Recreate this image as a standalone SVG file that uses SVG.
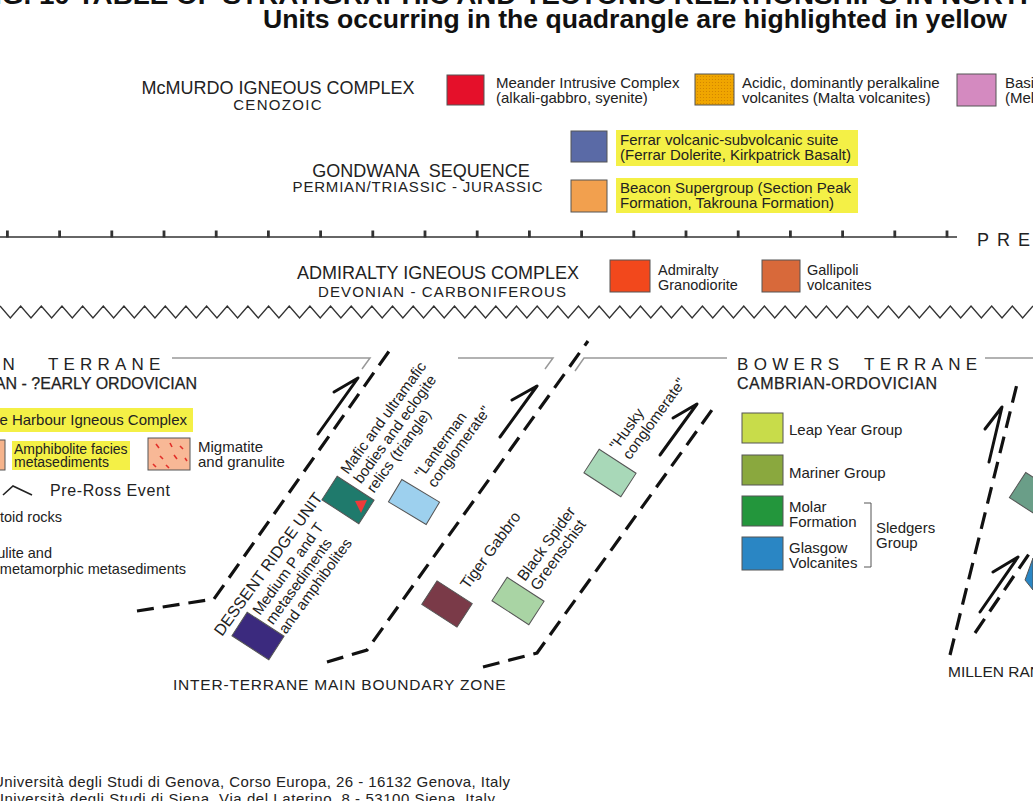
<svg xmlns="http://www.w3.org/2000/svg" width="1033" height="801" viewBox="0 0 1033 801">
<style>
text{font-family:"Liberation Sans",Arial,sans-serif;fill:#222}
.b{font-weight:bold;fill:#111}
.f{fill:none;stroke:#111;stroke-width:3.2;stroke-dasharray:17 9}
.ar{fill:none;stroke:#111;stroke-width:3;stroke-linecap:round;stroke-linejoin:round}
.sw{stroke:#555;stroke-width:1}
.hl{fill:#f4f046}
.sep{fill:none;stroke:#999;stroke-width:1.5}
.r{font-size:15px}
.hv{stroke:#222;stroke-width:0.25}
</style>
<defs>
<pattern id="dots" width="3" height="3" patternUnits="userSpaceOnUse">
<rect width="3" height="3" fill="#f0a600"/><circle cx="1.5" cy="1.5" r="0.6" fill="#d08200"/>
</pattern>
</defs>
<rect width="1033" height="801" fill="#fff"/>

<g id="title">
<text x="-6" y="4" class="b" font-size="25" textLength="1046" lengthAdjust="spacingAndGlyphs">IG. 10 TABLE OF STRATIGRAPHIC AND TECTONIC RELATIONSHIPS IN NORTH</text>
<text x="263" y="28" class="b" font-size="26" textLength="744" lengthAdjust="spacingAndGlyphs">Units occurring in the quadrangle are highlighted in yellow</text>
</g>

<g id="mcmurdo">
<text x="278" y="94" font-size="18" text-anchor="middle">McMURDO IGNEOUS COMPLEX</text>
<text x="278" y="110" font-size="15" letter-spacing="1.3" text-anchor="middle">CENOZOIC</text>
<rect class="sw" x="447" y="75" width="37" height="30" fill="#e5102a"/>
<text x="496" y="88" class="r">Meander Intrusive Complex</text>
<text x="496" y="103" class="r">(alkali-gabbro, syenite)</text>
<rect class="sw" x="695" y="74" width="39" height="31" fill="url(#dots)"/>
<text x="742" y="88" class="r">Acidic, dominantly peralkaline</text>
<text x="742" y="103" class="r">volcanites (Malta volcanites)</text>
<rect class="sw" x="957" y="74" width="39" height="32" fill="#d48ac0"/>
<text x="1005" y="88" class="r">Basic volcanites</text>
<text x="1005" y="103" class="r">(Melbourne volcanites)</text>
</g>

<g id="gondwana">
<text x="421" y="177" font-size="18" text-anchor="middle" style="white-space:pre">GONDWANA  SEQUENCE</text>
<text x="418" y="192" font-size="15" letter-spacing="0.8" text-anchor="middle">PERMIAN/TRIASSIC - JURASSIC</text>
<rect class="sw" x="571" y="131" width="36" height="31" fill="#5a6aa6"/>
<rect class="hl" x="616" y="130" width="242" height="36"/>
<text x="620" y="145" class="r">Ferrar volcanic-subvolcanic suite</text>
<text x="620" y="160" class="r">(Ferrar Dolerite, Kirkpatrick Basalt)</text>
<rect class="sw" x="571" y="180" width="36" height="32" fill="#f2a04e"/>
<rect class="hl" x="616" y="178" width="242" height="35"/>
<text x="620" y="193" class="r">Beacon Supergroup (Section Peak</text>
<text x="620" y="208" class="r">Formation, Takrouna Formation)</text>
</g>

<g id="unconformity">
<line x1="0" y1="237" x2="957" y2="237" stroke="#333" stroke-width="1.6"/>
<line x1="6" y1="234" x2="957" y2="234" stroke="#333" stroke-width="7" stroke-dasharray="2.8 49.4"/>
<text x="977" y="246" font-size="18" letter-spacing="8">PRE</text>
</g>

<g id="admiralty">
<text x="438" y="279" font-size="18" text-anchor="middle" textLength="282" lengthAdjust="spacingAndGlyphs">ADMIRALTY IGNEOUS COMPLEX</text>
<text x="442" y="297" font-size="15" text-anchor="middle" textLength="248" lengthAdjust="spacing">DEVONIAN - CARBONIFEROUS</text>
<rect class="sw" x="610" y="260" width="40" height="32" fill="#f2481c"/>
<text x="658" y="275" font-size="14.5">Admiralty</text>
<text x="658" y="290" font-size="14.5">Granodiorite</text>
<rect class="sw" x="762" y="260" width="38" height="32" fill="#d8693a"/>
<text x="807" y="275" font-size="14.5">Gallipoli</text>
<text x="807" y="290" font-size="14.5">volcanites</text>
</g>

<g id="zigzag">
<path fill="none" stroke="#333" stroke-width="1.4" d="M0,306 l10.33,12 10.33,-12 10.33,12 10.33,-12 10.33,12 10.33,-12 10.33,12 10.33,-12 10.33,12 10.33,-12 10.33,12 10.33,-12 10.33,12 10.33,-12 10.33,12 10.33,-12 10.33,12 10.33,-12 10.33,12 10.33,-12 10.33,12 10.33,-12 10.33,12 10.33,-12 10.33,12 10.33,-12 10.33,12 10.33,-12 10.33,12 10.33,-12 10.33,12 10.33,-12 10.33,12 10.33,-12 10.33,12 10.33,-12 10.33,12 10.33,-12 10.33,12 10.33,-12 10.33,12 10.33,-12 10.33,12 10.33,-12 10.33,12 10.33,-12 10.33,12 10.33,-12 10.33,12 10.33,-12 10.33,12 10.33,-12 10.33,12 10.33,-12 10.33,12 10.33,-12 10.33,12 10.33,-12 10.33,12 10.33,-12 10.33,12 10.33,-12 10.33,12 10.33,-12 10.33,12 10.33,-12 10.33,12 10.33,-12 10.33,12 10.33,-12 10.33,12 10.33,-12 10.33,12 10.33,-12 10.33,12 10.33,-12 10.33,12 10.33,-12 10.33,12 10.33,-12 10.33,12 10.33,-12 10.33,12 10.33,-12 10.33,12 10.33,-12 10.33,12 10.33,-12 10.33,12 10.33,-12 10.33,12 10.33,-12 10.33,12 10.33,-12 10.33,12 10.33,-12 10.33,12 10.33,-12 10.33,12 10.33,-12"/>
</g>

<g id="separators">
<path class="sep" d="M172,358 L370,358 L362,369"/>
<path class="sep" d="M458,358 L553,358 L545,369"/>
<path class="sep" d="M575,371 L584,358 L727,358"/>
<path class="sep" d="M985,358 L1033,358"/>
</g>

<g id="wilson-terrane">
<text x="20" y="370" font-size="17" letter-spacing="5.2" text-anchor="end">WILSON</text>
<text x="48" y="370" font-size="17" letter-spacing="5.2">TERRANE</text>
<text x="197" y="389" font-size="16" class="hv" text-anchor="end">CAMBRIAN - ?EARLY ORDOVICIAN</text>
<rect class="hl" x="0" y="408" width="193" height="24"/>
<text x="187" y="425" class="r" text-anchor="end">Granite Harbour Igneous Complex</text>
<rect class="sw" x="-30" y="440" width="35" height="30" fill="#f6b48c"/>
<rect class="hl" x="12" y="441" width="118" height="29"/>
<text x="14" y="454" font-size="14">Amphibolite facies</text>
<text x="14" y="467" font-size="14">metasediments</text>
<rect class="sw" x="148" y="438" width="42" height="32" fill="#f8b896"/>
<path d="M156,444 l3,4 M170,443 l2,4 M180,446 l3,3 M160,456 l3,3 M174,455 l3,4 M185,458 l2,3 M153,464 l3,3 M166,465 l3,3" stroke="#e2302a" stroke-width="1.6" fill="none"/>
<text x="198" y="452" class="r">Migmatite</text>
<text x="198" y="467" class="r">and granulite</text>
<path d="M3,495 L13,486 L32,495" fill="none" stroke="#222" stroke-width="1.6"/>
<text x="50" y="496" font-size="16" letter-spacing="0.6">Pre-Ross Event</text>
<text x="62" y="522" font-size="14.5" text-anchor="end">Granitoid rocks</text>
<text x="52" y="558" font-size="14.5" text-anchor="end">Granulite and</text>
<text x="186" y="574" font-size="14.5" text-anchor="end">metamorphic metasediments</text>
</g>

<g id="dessent-ridge">
<rect class="sw" x="-22" y="-14" width="44" height="28" fill="#3b2a7e" transform="translate(258,636) rotate(33)"/>
<text font-size="16" transform="translate(222,637) rotate(-54)">DESSENT RIDGE UNIT</text>
<g transform="translate(260,616) rotate(-54)" font-size="15">
<text x="0" y="0">Medium P and T</text>
<text x="0" y="16">metasediments</text>
<text x="0" y="32">and amphibolites</text>
</g>
</g>

<g id="mafic">
<rect class="sw" x="-22" y="-14" width="44" height="28" fill="#1f7a6c" transform="translate(348,500) rotate(33)"/>
<polygon points="355,501 367,500 361,513" fill="#ee3a3a"/>
<g transform="translate(348,475) rotate(-54)" font-size="15">
<text x="0" y="0">Mafic and ultramafic</text>
<text x="0" y="16">bodies and eclogite</text>
<text x="0" y="32">relics (triangle)</text>
</g>
</g>

<g id="lanterman">
<rect class="sw" x="-22" y="-13" width="44" height="26" fill="#9dd0ee" transform="translate(414,502) rotate(31)"/>
<g transform="translate(422,479) rotate(-54)" font-size="15">
<text x="0" y="0">"Lanterman</text>
<text x="0" y="16">conglomerate"</text>
</g>
</g>

<g id="tiger-gabbro">
<rect class="sw" x="-21" y="-14" width="42" height="28" fill="#7a3a48" transform="translate(447,604) rotate(33)"/>
<text font-size="15.5" transform="translate(468,590) rotate(-54)">Tiger Gabbro</text>
</g>

<g id="black-spider">
<rect class="sw" x="-22" y="-14" width="44" height="28" fill="#a9d4a4" transform="translate(518,601) rotate(33)"/>
<g transform="translate(525,582) rotate(-54)" font-size="15.5">
<text x="0" y="0">Black Spider</text>
<text x="0" y="16">Greenschist</text>
</g>
</g>

<g id="husky">
<rect class="sw" x="-22" y="-14" width="44" height="28" fill="#a8d8b8" transform="translate(610,473) rotate(33)"/>
<g transform="translate(617,451) rotate(-54)" font-size="15">
<text x="0" y="0">"Husky</text>
<text x="0" y="16">conglomerate"</text>
</g>
</g>

<g id="bowers-terrane">
<text x="737" y="370" font-size="17" letter-spacing="5.3" style="white-space:pre">BOWERS  TERRANE</text>
<text x="737" y="389" font-size="16" letter-spacing="0.5" class="hv">CAMBRIAN-ORDOVICIAN</text>
<rect class="sw" x="742" y="413" width="41" height="30" fill="#c8dc4a"/>
<text x="789" y="435" class="r">Leap Year Group</text>
<rect class="sw" x="742" y="455" width="41" height="30" fill="#8aa83e"/>
<text x="789" y="478" class="r">Mariner Group</text>
<rect class="sw" x="742" y="496" width="41" height="30" fill="#23963c"/>
<text x="789" y="512" class="r">Molar</text>
<text x="789" y="527" class="r">Formation</text>
<rect class="sw" x="742" y="537" width="41" height="33" fill="#2a86c4"/>
<text x="789" y="553" class="r">Glasgow</text>
<text x="789" y="568" class="r">Volcanites</text>
<path d="M864,503 H871 V567 H864" fill="none" stroke="#555" stroke-width="1"/>
<text x="876" y="533" class="r">Sledgers</text>
<text x="876" y="548" class="r">Group</text>
</g>

<g id="millen-range">
<rect class="sw" x="-22" y="-15" width="44" height="30" fill="#6a9e88" transform="translate(1036,497) rotate(33)"/>
<polygon points="1033,558 1025,580 1033,590" fill="#2a86c4" stroke="#555" stroke-width="1"/>
<text x="948" y="677" font-size="15.5">MILLEN RANGE</text>
</g>

<g id="connectors">
<path class="f" d="M137,611 L214,599 L392,347"/>
<path class="f" d="M327,662 L367,650 L588,341"/>
<path class="f" d="M483,667 L537,653 L717,403"/>
<path class="f" d="M950,655 L1018,380"/>
<path class="f" d="M975,633 L1033,548"/>
<path class="ar" d="M318,434 L358,378 L334,392"/>
<path class="ar" d="M500,437 L537,386 L512,400"/>
<path class="ar" d="M660,455 L697,404 L673,418"/>
<path class="ar" d="M989,462 L1002,407 L985,429"/>
<path class="ar" d="M980,612 L1018,557 L993,572"/>
</g>

<g id="boundary-label">
<text x="173" y="690" font-size="15.5" letter-spacing="0.8">INTER-TERRANE MAIN BOUNDARY ZONE</text>
</g>

<g id="footer">
<text x="-7" y="787" class="r" textLength="517" lengthAdjust="spacing">Università degli Studi di Genova, Corso Europa, 26 - 16132 Genova, Italy</text>
<text x="-7" y="804" class="r" textLength="502" lengthAdjust="spacing">Università degli Studi di Siena, Via del Laterino, 8 - 53100 Siena, Italy</text>
</g>
</svg>
